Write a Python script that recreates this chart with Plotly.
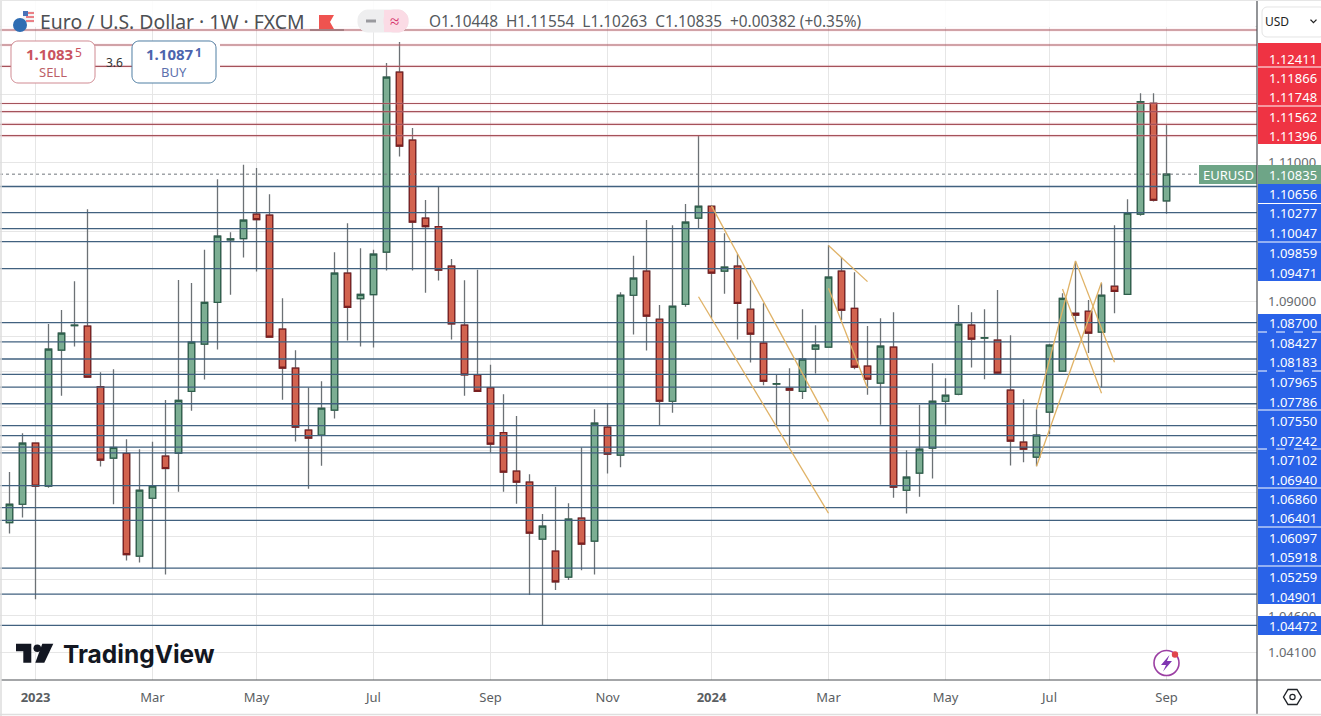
import pandas as pd
import plotly.graph_objects as go

# ---------- data ----------
week_dates = [d.strftime("%Y-%m-%d") for d in pd.date_range("2022-12-19", periods=90, freq="7D")]

opens = [1.05888,1.06143,1.06996,1.06394,1.08308,1.08657,1.08649,1.07792,1.06786,1.06851,
         1.05423,1.06226,1.06814,1.06856,1.07726,1.08393,1.08989,1.09885,1.09904,1.10255,
         1.10241,1.08606,1.08053,1.07178,1.07108,1.07459,1.09406,1.09041,1.09098,1.09708,
         1.12327,1.11331,1.10198,1.10077,1.09507,1.08663,1.07958,1.07773,1.07145,1.06604,
         1.06450,1.05658,1.05493,1.05133,1.05949,1.05631,1.07221,1.06828,1.09090,1.09435,
         1.08748,1.07585,1.08961,1.10198,1.10370,1.09435,1.09507,1.08890,1.08408,1.07826,
         1.07769,1.07726,1.08322,1.08351,1.09435,1.08904,1.08081,1.07840,1.08351,1.06338,
         1.06576,1.06926,1.07585,1.07684,1.08663,1.08479,1.08450,1.07741,1.07010,1.06800,
         1.07431,1.08010,1.08833,1.08862,1.08564,1.09219,1.09104,1.10255,1.11870,1.10448]
highs = [1.06594,1.07136,1.07000,1.08681,1.08880,1.09291,1.10327,1.07996,1.08039,1.07052,
         1.06912,1.07015,1.07603,1.09310,1.09267,1.09741,1.10763,1.09996,1.10971,1.10923,
         1.10544,1.09046,1.08308,1.07778,1.07868,1.09708,1.10126,1.09766,1.09741,1.12460,
         1.12770,1.11506,1.10461,1.10655,1.09608,1.09305,1.09454,1.08100,1.07684,1.07379,
         1.06562,1.06008,1.06388,1.06156,1.06935,1.07473,1.07557,1.09133,1.09655,1.10173,
         1.08951,1.10097,1.10403,1.11398,1.10385,1.09982,1.09680,1.09305,1.08975,1.07968,
         1.08053,1.08890,1.08663,1.09809,1.09636,1.09421,1.08653,1.08762,1.08847,1.06898,
         1.07537,1.08124,1.07911,1.08951,1.08847,1.08890,1.09166,1.08521,1.07613,1.07473,
         1.08398,1.09118,1.09573,1.09022,1.09262,1.10097,1.10471,1.12017,1.12017,1.11554]
lows = [1.05736,1.05957,1.04829,1.06374,1.07664,1.08359,1.07925,1.06669,1.06143,1.05363,
        1.05335,1.05257,1.05169,1.06318,1.07453,1.07891,1.08317,1.09098,1.09631,1.09429,
        1.08493,1.07607,1.07019,1.06360,1.06678,1.07341,1.08444,1.08359,1.08345,1.09444,
        1.11092,1.09444,1.09127,1.09300,1.08459,1.07664,1.07726,1.06865,1.06318,1.06151,
        1.04888,1.04476,1.04957,1.05096,1.05230,1.05169,1.06570,1.06660,1.08530,1.08303,
        1.07249,1.07425,1.08927,1.10054,1.08762,1.09113,1.08459,1.08132,1.07812,1.07221,
        1.06963,1.07617,1.07976,1.08351,1.08738,1.08039,1.07678,1.07253,1.06234,1.06013,
        1.06248,1.06500,1.07253,1.07670,1.08061,1.07897,1.07982,1.06683,1.06730,1.06674,
        1.07122,1.08010,1.08696,1.08266,1.07783,1.08833,1.09104,1.10231,1.10437,1.10263]
closes = [1.06143,1.06996,1.06394,1.08322,1.08549,1.08663,1.07925,1.06758,1.06935,1.05445,
          1.06338,1.06394,1.06641,1.07599,1.08422,1.08989,1.09939,1.09900,1.10169,1.10178,
          1.08493,1.08053,1.07221,1.07066,1.07487,1.09406,1.08918,1.09104,1.09680,1.12253,
          1.11243,1.10140,1.10077,1.09449,1.08681,1.07958,1.07726,1.06982,1.06590,1.06450,
          1.05741,1.05838,1.05068,1.05935,1.05589,1.07277,1.06842,1.09090,1.09334,1.08791,
          1.07585,1.08933,1.10140,1.10370,1.09406,1.09493,1.08975,1.08535,1.07868,1.07833,
          1.07741,1.08181,1.08379,1.09349,1.08876,1.08067,1.07897,1.08365,1.06380,1.06520,
          1.06912,1.07585,1.07670,1.08677,1.08464,1.08486,1.07982,1.07024,1.06912,1.07108,
          1.08379,1.09046,1.08805,1.08549,1.09090,1.09147,1.10270,1.11893,1.10457,1.10835]

red_levels = [1.12949,1.12727,1.12411,1.11866,1.11748,1.11562,1.11396]
blue_levels = [1.10656,1.10277,1.10047,1.09859,1.09471,1.08700,1.08427,1.08183,1.07965,1.07786,
               1.07550,1.07242,1.07102,1.06940,1.06860,1.06401,1.06097,1.05918,1.05259,1.04901,1.04472]
last_price = 1.10835

# (first week, first price, last week, last price)
drawn_lines = [(54,1.10375,63,1.07299),(53,1.09069,63,1.06018),(63,1.09803,66,1.09285),
               (63,1.09190,66,1.07769),(79,1.06674,84,1.09277),(79,1.07473,82,1.09583),
               (82,1.09583,85,1.08138),(81,1.09180,84,1.07698)]

y_ticks = [1.13,1.12,1.11,1.10,1.09,1.085,1.08,1.075,1.069,1.063,1.057,1.051,1.046,1.041]
y_tick_labels = ["","","1.11000","","1.09000","","","","","","","","1.04600","1.04100"]
x_tick_weeks = [2,11,19,28,37,46,54,63,72,80,89]
x_tick_labels = ["<b>2023</b>","Mar","May","Jul","Sep","Nov","<b>2024</b>","Mar","May","Jul","Sep"]

red_labels = ["1.12411","1.11866","1.11748","1.11562","1.11396"]
blue_labels = ["1.10656","1.10277","1.10047","1.09859","1.09471","1.08700","1.08427","1.08183",
               "1.07965","1.07786","1.07550","1.07242","1.07102","1.06940","1.06860","1.06401",
               "1.06097","1.05918","1.05259","1.04901","1.04472"]

# ---------- layout constants ----------
W, H = 1321, 716
PLOT_W, PLOT_H = 1257, 680
FONT = "Noto Sans"
week0 = pd.Timestamp(week_dates[0])
x_start = week0 + pd.Timedelta(days=-0.7308 * 7)
x_end = week0 + pd.Timedelta(days=95.96 * 7)
x_rng = [x_start.strftime("%Y-%m-%d %H:%M"), x_end.strftime("%Y-%m-%d %H:%M")]
Y_RANGE = [0.015888, 0.054590]  # log10 of the axis limits

fig = go.Figure()

def hlines(levels, color, width, dash="solid"):
    xs, ys = [], []
    for v in levels:
        xs += [x_rng[0], x_rng[1], None]
        ys += [v, v, None]
    fig.add_trace(go.Scatter(x=xs, y=ys, mode="lines", hoverinfo="skip",
                             line=dict(color=color, width=width, dash=dash)))

hlines(red_levels, "rgba(240,170,180,0.15)", 3.5)
hlines(red_levels, "#a5525a", 1.2)
hlines(blue_levels, "#41617f", 1.3)

# dotted last-price line stops at the EURUSD badge (hidden beneath it)
hlines([last_price], "#70767c", 1, "dot")

GREEN_A, RED_A = "rgba(110,165,135,0.9)", "rgba(207,87,66,0.93)"

# wicks
fig.add_trace(go.Candlestick(
    x=week_dates, open=opens, high=highs, low=lows, close=closes, whiskerwidth=0,
    increasing=dict(line=dict(color="#6c7175", width=1.3), fillcolor="rgba(0,0,0,0)"),
    decreasing=dict(line=dict(color="#6c7175", width=1.3), fillcolor="rgba(0,0,0,0)"),
    hoverinfo="skip"))
# bodies
body_hi = [max(o, c) for o, c in zip(opens, closes)]
body_lo = [min(o, c) for o, c in zip(opens, closes)]
fig.add_trace(go.Candlestick(
    x=week_dates, open=opens, high=body_hi, low=body_lo, close=closes, whiskerwidth=0,
    increasing=dict(line=dict(color="#2d5f4b", width=1.2), fillcolor=GREEN_A),
    decreasing=dict(line=dict(color="#7a1f20", width=1.2), fillcolor=RED_A),
    hoverinfo="skip"))

for a, pa, b, pb in drawn_lines:
    fig.add_trace(go.Scatter(x=[week_dates[a], week_dates[b]], y=[pa, pb], mode="lines",
                             hoverinfo="skip", line=dict(color="#e0b266", width=1.3)))

# ---------- chrome helpers (pixel positions of the page furniture) ----------
def px(x): return x / PLOT_W
def py(y): return 1 - y / PLOT_H

shapes, annots = [], []

def rect(x0, y0, x1, y1, fill, line=None, lw=1):
    shapes.append(dict(type="rect", xref="paper", yref="paper", layer="above",
                       x0=px(x0), x1=px(x1), y0=py(y0), y1=py(y1), fillcolor=fill,
                       line=dict(color=line or "rgba(0,0,0,0)", width=lw if line else 0)))

def poly(points, fill, line=None, lw=1):
    path = "M" + " L".join(f"{px(x):.5f},{py(y):.5f}" for x, y in points) + " Z"
    shapes.append(dict(type="path", path=path, xref="paper", yref="paper", layer="above",
                       fillcolor=fill, line=dict(color=line or "rgba(0,0,0,0)", width=lw if line else 0)))

def seg(x0, y0, x1, y1, color, lw=1, dash="solid"):
    shapes.append(dict(type="line", xref="paper", yref="paper", layer="above",
                       x0=px(x0), x1=px(x1), y0=py(y0), y1=py(y1),
                       line=dict(color=color, width=lw, dash=dash)))

def circle(cx, cy, r, fill, line=None, lw=1):
    shapes.append(dict(type="circle", xref="paper", yref="paper", layer="above",
                       x0=px(cx - r), x1=px(cx + r), y0=py(cy + r), y1=py(cy - r), fillcolor=fill,
                       line=dict(color=line or "rgba(0,0,0,0)", width=lw if line else 0)))

def rrect(x0, y0, x1, y1, r, fill, line, lw=1):
    k = r * 0.45
    p = lambda x, y: f"{px(x):.5f},{py(y):.5f}"
    path = (f"M{p(x0+r,y0)} L{p(x1-r,y0)} C{p(x1-k,y0)} {p(x1,y0+k)} {p(x1,y0+r)} "
            f"L{p(x1,y1-r)} C{p(x1,y1-k)} {p(x1-k,y1)} {p(x1-r,y1)} "
            f"L{p(x0+r,y1)} C{p(x0+k,y1)} {p(x0,y1-k)} {p(x0,y1-r)} "
            f"L{p(x0,y0+r)} C{p(x0,y0+k)} {p(x0+k,y0)} {p(x0+r,y0)} Z")
    shapes.append(dict(type="path", path=path, xref="paper", yref="paper", layer="above",
                       fillcolor=fill, line=dict(color=line, width=lw)))

def text(x, y, s, size=13, color="#333", anchor="center", family=FONT):
    annots.append(dict(x=px(x), y=py(y), xref="paper", yref="paper", text=s, showarrow=False,
                       xanchor=anchor, yanchor="middle", borderpad=0,
                       font=dict(family=family, size=size, color=color)))

# header backdrop
rect(1, 0, 1255, 27, "rgba(255,255,255,0.85)")

# currency flag icon
rect(23, 11, 34, 23, "#f3f3f3")
for yy in (13, 17, 21):
    seg(26, yy, 34, yy, "#e8636b", 1.6)
rect(23, 11, 28, 16, "#4a72b8")
circle(20, 25, 7, "#2f6db3")

# header text
text(39, 22, "Euro / U.S. Dollar · 1W · FXCM", 19.4, "#4d4f53", "left")
poly([(319, 15), (334, 15), (330, 22), (334, 29), (319, 29)], "#ef5350")
seg(310, 30, 344, 30, "#7d5a5e", 1)
rrect(358, 10, 408, 32, 10, "#eeeeef", "#eeeeef")
rrect(384, 10, 408, 32, 10, "#fbdbe5", "#fbdbe5")
rect(384, 10, 394, 32, "#fbdbe5")
seg(366, 21, 376, 21, "#9a9a9e", 3)
text(394, 20, "≈", 17, "#d6336c")
text(428, 21.5, "O1.10448  H1.11554  L1.10263  C1.10835  +0.00382 (+0.35%)", 15.4, "#55595d", "left")

# sell / buy boxes
rect(216, 41, 220, 83, "#ffffff")
rrect(11, 41, 95, 83, 7, "#ffffff", "#d08a92")
rrect(132, 41, 216, 83, 7, "#ffffff", "#4f7ea3")
text(49.5, 54, "<b>1.1083</b>", 15, "#c9535f")
text(78, 53, "5", 12, "#c9535f")
text(53, 72, "SELL", 13, "#bc5f68")
text(170, 54, "<b>1.1087</b>", 15, "#4c64ad")
text(198, 53, "<b>1</b>", 12, "#4c64ad")
text(174, 72, "BUY", 13, "#5c70ad")
text(114, 62, "3.6", 12, "#333333")

# right-hand price labels
rect(1258, 43, 1321, 144, "#ef3343")
rect(1258, 184, 1321, 281, "#2962e8")
rect(1258, 314, 1321, 604, "#2962e8")
rect(1258, 616, 1321, 635, "#2962e8")
rect(1258, 165, 1321, 184, "#6ea587")
rect(1199, 165, 1257, 184, "#6ea587")
for yy in (67, 106):
    seg(1258, yy, 1321, yy, "#ffffff", 1)
seg(1258, 203.5, 1321, 203.5, "#ffffff", 1)
for yy in (242, 332, 371, 410, 449, 488, 527, 566):
    seg(1258, yy, 1321, yy, "#ffffff", 1, "dash" if yy in (332, 371, 449) else "solid")

for s, yy in zip(red_labels, [58.7, 78.3, 97, 117.3, 136]):
    text(1293, yy, s, 13, "#ffffff")
blue_y = [194.3, 213.3, 232.7, 253.3, 272.7, 323.3, 343.3, 362.3, 382.3, 401.7, 421.3,
          440.7, 460, 479.7, 499.3, 518.3, 538.3, 557.3, 577.3, 596.7, 626.3]
for s, yy in zip(blue_labels, blue_y):
    text(1293, yy, s, 13, "#ffffff")
text(1293, 175, "1.10835", 13, "#ffffff")
text(1228, 175, "EURUSD", 13, "#ffffff")

# currency selector
rect(1258, 0, 1321, 42, "#ffffff")
rrect(1262, 7, 1325, 37, 5, "#ffffff", "#e4e4e4")
text(1277, 21, "USD", 12, "#222222")
poly([(1310, 20), (1313.5, 23.5), (1317, 20), (1316, 19.2), (1313.5, 21.7), (1311, 19.2)], "#222222")

# axis frame
seg(1257, 0, 1257, 714, "#4a4e52", 1.2)
seg(1, 680, 1321, 680, "#4a4e52", 1.2)
seg(0, 714.5, 1321, 714.5, "#dfdfdf", 1.5)
seg(1, 0, 1, 716, "#dddddd", 1.5)
seg(0, 0.5, 1321, 0.5, "#e6e6e6", 1)

# TradingView mark
poly([(16, 643.7), (31.3, 643.7), (31.3, 662.7), (23.3, 662.7), (23.3, 651.3), (16, 651.3)], "#131722")
circle(37.3, 648.3, 3.8, "#131722")
poly([(42.3, 643.7), (53.3, 643.7), (44.3, 662.7), (35.3, 662.7)], "#131722")
text(62, 654, "<b>TradingView</b>", 24.5, "#131722", "left", "Inter")

# flash icon
circle(1166.5, 663, 12.5, "#ffffff", "#9b3fa3", 1.6)
poly([(1169.5, 655), (1161, 665), (1166, 665), (1163, 671.5), (1172, 661), (1167, 661)], "#7f35b2")
circle(1175, 654.5, 3.2, "#e0454d")

# settings hexagon
poly([(1283.5, 697), (1288, 689.5), (1297, 689.5), (1301.5, 697), (1297, 704.5), (1288, 704.5)],
     "#ffffff", "#1f2328", 1.4)
circle(1292.5, 697, 2.6, "#ffffff", "#1f2328", 1.2)

fig.update_layout(
    width=W, height=H, margin=dict(l=0, r=W - PLOT_W, t=0, b=H - PLOT_H),
    paper_bgcolor="#ffffff", plot_bgcolor="#ffffff", showlegend=False,
    boxgap=0.3, hovermode=False, shapes=shapes, annotations=annots,
    font=dict(family=FONT, size=13, color="#555a5e"),
    xaxis=dict(type="date", range=x_rng, rangeslider=dict(visible=False), tickmode="array",
               tickvals=[week_dates[i] for i in x_tick_weeks], ticktext=x_tick_labels,
               showgrid=True, gridcolor="#e6e6e6", gridwidth=1, zeroline=False, showline=False,
               ticks="", tickfont=dict(family=FONT, size=13, color="#5a5e62"), ticklabelstandoff=8),
    yaxis=dict(type="log", range=Y_RANGE, side="right", tickmode="array",
               tickvals=y_ticks, ticktext=y_tick_labels,
               showgrid=True, gridcolor="#e6e6e6", gridwidth=1, zeroline=False, showline=False,
               ticks="", tickfont=dict(family=FONT, size=13, color="#666a6e"), ticklabelstandoff=10),
)

fig.write_html("out.html", config=dict(displayModeBar=False),
               post_script="document.body.style.margin='0';document.body.style.overflow='hidden';")
